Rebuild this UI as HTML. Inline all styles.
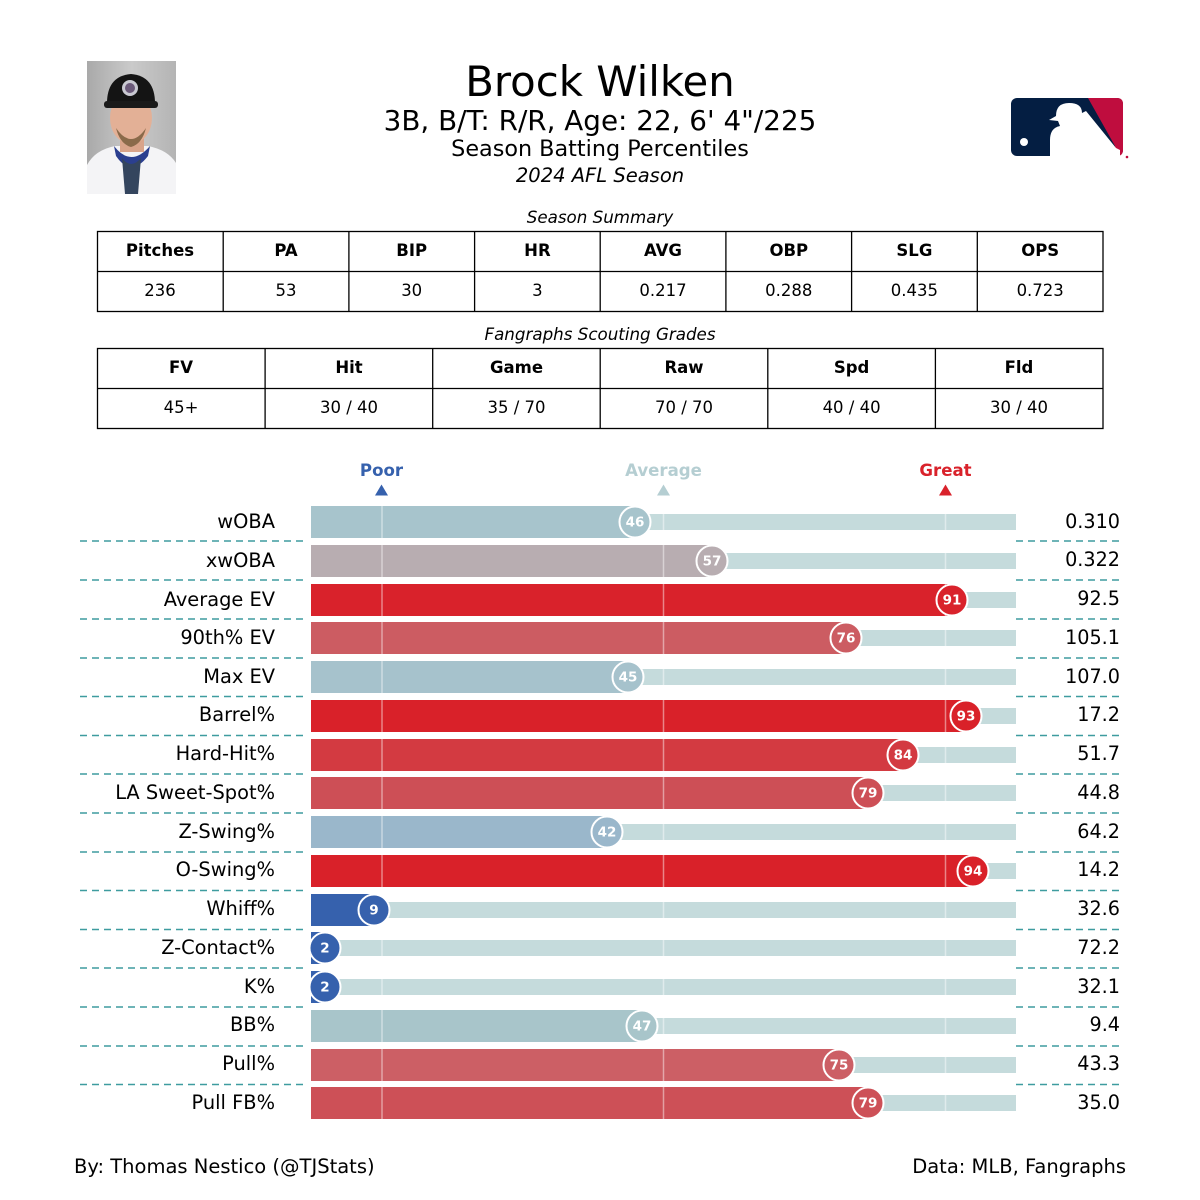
<!DOCTYPE html>
<html>
<head>
<meta charset="utf-8">
<style>
html,body{margin:0;padding:0;background:#fff;}
svg{display:block;}
text{font-family:"DejaVu Sans","Liberation Sans",sans-serif;}
</style>
</head>
<body>
<svg width="1200" height="1200" viewBox="0 0 1200 1200" xmlns="http://www.w3.org/2000/svg">
<rect width="1200" height="1200" fill="#fff"/>

<!-- Player photo placeholder -->
<g>
  <defs>
    <linearGradient id="bg" x1="0" y1="0" x2="1" y2="0">
      <stop offset="0" stop-color="#a9a9a9"/>
      <stop offset="0.5" stop-color="#cacaca"/>
      <stop offset="1" stop-color="#b4b4b4"/>
    </linearGradient>
  </defs>
  <rect x="87" y="61" width="89" height="133" fill="url(#bg)"/>
  <!-- jersey -->
  <path d="M87 165 Q95 150 115 146 L148 146 Q168 150 176 163 L176 194 L87 194 Z" fill="#f4f4f6"/>
  <path d="M114 146 Q131 168 150 146 L148 156 Q131 178 116 156 Z" fill="#2b3f8f"/>
  <path d="M122 158 Q131 170 141 158 L138 194 L125 194 Z" fill="#34455e"/>
  <!-- neck -->
  <rect x="120" y="132" width="24" height="20" fill="#d9a48a"/>
  <!-- face -->
  <ellipse cx="131" cy="118" rx="21" ry="26" fill="#e3b096"/>
  <path d="M116 128 Q131 150 146 128 Q142 144 131 147 Q120 144 116 128Z" fill="#8a6a4a"/>
  <!-- cap -->
  <path d="M107 106 Q106 76 131 74 Q156 76 155 106 Z" fill="#141414"/>
  <rect x="104" y="101" width="54" height="7" rx="3" fill="#1a1a1a"/>
  <circle cx="130" cy="88" r="8" fill="#c9c9d2"/>
  <circle cx="130" cy="88" r="5" fill="#6b5a7a"/>
</g>

<!-- MLB logo -->
<g>
  <rect x="1011" y="98" width="112" height="58" rx="6" fill="#041e42"/>
  <path d="M1088 98 L1117 98 Q1123 98 1123 104 L1123 150 Q1123 156 1117 156 L1115 156 L1115 146 Z" fill="#bf0d3e"/>
  <path d="M1050 156 L1050 140 Q1050 128 1060 126 L1058 121 L1049 120 L1056 116 Q1056 103 1069 103 Q1082 103 1082 113 L1086 111 L1116 148 L1120 150 L1120 156 Z" fill="#fff"/>
  <circle cx="1024" cy="142" r="4" fill="#fff"/>
  <circle cx="1127" cy="157" r="1.3" fill="#bf0d3e"/>
</g>

<!-- Titles -->
<text x="600" y="96" font-size="41.8" text-anchor="middle" fill="#000">Brock Wilken</text>
<text x="600" y="130" font-size="27.8" text-anchor="middle" fill="#000">3B, B/T: R/R, Age: 22, 6' 4"/225</text>
<text x="600" y="156" font-size="22.3" text-anchor="middle" fill="#000">Season Batting Percentiles</text>
<text x="600" y="182" font-size="19.5" font-style="italic" text-anchor="middle" fill="#000">2024 AFL Season</text>

<!-- Season Summary table -->
<text x="600" y="223" font-size="16.7" font-style="italic" text-anchor="middle" fill="#000">Season Summary</text>
<g stroke="#000" stroke-width="1.3" fill="none">
  <rect x="97.5" y="231.5" width="1005.5" height="80"/>
  <line x1="97.5" y1="271.5" x2="1103" y2="271.5"/>
  <line x1="223.2" y1="231.5" x2="223.2" y2="311.5"/>
  <line x1="348.9" y1="231.5" x2="348.9" y2="311.5"/>
  <line x1="474.6" y1="231.5" x2="474.6" y2="311.5"/>
  <line x1="600.2" y1="231.5" x2="600.2" y2="311.5"/>
  <line x1="725.9" y1="231.5" x2="725.9" y2="311.5"/>
  <line x1="851.6" y1="231.5" x2="851.6" y2="311.5"/>
  <line x1="977.3" y1="231.5" x2="977.3" y2="311.5"/>
</g>
<g font-size="16.5" text-anchor="middle" fill="#000" font-weight="bold">
  <text x="160" y="256">Pitches</text>
  <text x="286" y="256">PA</text>
  <text x="411.7" y="256">BIP</text>
  <text x="537.4" y="256">HR</text>
  <text x="663" y="256">AVG</text>
  <text x="788.8" y="256">OBP</text>
  <text x="914.4" y="256">SLG</text>
  <text x="1040.2" y="256">OPS</text>
</g>
<g font-size="16.5" text-anchor="middle" fill="#000">
  <text x="160" y="296">236</text>
  <text x="286" y="296">53</text>
  <text x="411.7" y="296">30</text>
  <text x="537.4" y="296">3</text>
  <text x="663" y="296">0.217</text>
  <text x="788.8" y="296">0.288</text>
  <text x="914.4" y="296">0.435</text>
  <text x="1040.2" y="296">0.723</text>
</g>

<!-- Fangraphs table -->
<text x="600" y="340" font-size="16.7" font-style="italic" text-anchor="middle" fill="#000">Fangraphs Scouting Grades</text>
<g stroke="#000" stroke-width="1.3" fill="none">
  <rect x="97.5" y="348.5" width="1005.5" height="80"/>
  <line x1="97.5" y1="388.5" x2="1103" y2="388.5"/>
  <line x1="265.1" y1="348.5" x2="265.1" y2="428.5"/>
  <line x1="432.7" y1="348.5" x2="432.7" y2="428.5"/>
  <line x1="600.2" y1="348.5" x2="600.2" y2="428.5"/>
  <line x1="767.8" y1="348.5" x2="767.8" y2="428.5"/>
  <line x1="935.4" y1="348.5" x2="935.4" y2="428.5"/>
</g>
<g font-size="16.5" text-anchor="middle" fill="#000" font-weight="bold">
  <text x="181" y="373">FV</text>
  <text x="349" y="373">Hit</text>
  <text x="516.5" y="373">Game</text>
  <text x="684" y="373">Raw</text>
  <text x="851.6" y="373">Spd</text>
  <text x="1019" y="373">Fld</text>
</g>
<g font-size="16.5" text-anchor="middle" fill="#000">
  <text x="181" y="413">45+</text>
  <text x="349" y="413">30 / 40</text>
  <text x="516.5" y="413">35 / 70</text>
  <text x="684" y="413">70 / 70</text>
  <text x="851.6" y="413">40 / 40</text>
  <text x="1019" y="413">30 / 40</text>
</g>

<!-- Poor / Average / Great -->
<g font-size="16.6" font-weight="bold" text-anchor="middle">
  <text x="381.5" y="476" fill="#3661ad">Poor</text>
  <text x="663.5" y="476" fill="#b5ced2">Average</text>
  <text x="945.5" y="476" fill="#d9222b">Great</text>
</g>
<polygon points="375,495.5 388,495.5 381.5,484.5" fill="#3661ad"/>
<polygon points="657,495.5 670,495.5 663.5,484.5" fill="#b5ced2"/>
<polygon points="939,495.5 952,495.5 945.5,484.5" fill="#d9222b"/>

<!-- Dashed separators -->
<g stroke="#3e9c9f" stroke-width="1.4" stroke-dasharray="7 5">
  <path d="M80 541H308M1016 541H1121
           M80 580H308M1016 580H1121
           M80 619H308M1016 619H1121
           M80 658H308M1016 658H1121
           M80 696.5H308M1016 696.5H1121
           M80 735.5H308M1016 735.5H1121
           M80 774H308M1016 774H1121
           M80 813H308M1016 813H1121
           M80 852H308M1016 852H1121
           M80 890.5H308M1016 890.5H1121
           M80 929.5H308M1016 929.5H1121
           M80 968H308M1016 968H1121
           M80 1007H308M1016 1007H1121
           M80 1046H308M1016 1046H1121
           M80 1084.5H308M1016 1084.5H1121"/>
</g>

<!-- Rows -->
<g>
  <g fill="#c5dbdc">
    <rect x="311" y="514" width="705" height="16"/>
    <rect x="311" y="553" width="705" height="16"/>
    <rect x="311" y="592" width="705" height="16"/>
    <rect x="311" y="630" width="705" height="16"/>
    <rect x="311" y="669" width="705" height="16"/>
    <rect x="311" y="708" width="705" height="16"/>
    <rect x="311" y="747" width="705" height="16"/>
    <rect x="311" y="785" width="705" height="16"/>
    <rect x="311" y="824" width="705" height="16"/>
    <rect x="311" y="863" width="705" height="16"/>
    <rect x="311" y="902" width="705" height="16"/>
    <rect x="311" y="940" width="705" height="16"/>
    <rect x="311" y="979" width="705" height="16"/>
    <rect x="311" y="1018" width="705" height="16"/>
    <rect x="311" y="1057" width="705" height="16"/>
    <rect x="311" y="1095" width="705" height="16"/>
  </g>
  <rect x="311" y="506" width="324" height="32" fill="#a7c4cc"/>
  <rect x="311" y="545" width="401" height="32" fill="#b8adb1"/>
  <rect x="311" y="584" width="641" height="32" fill="#d9222b"/>
  <rect x="311" y="622" width="535" height="32" fill="#cc5c62"/>
  <rect x="311" y="661" width="317" height="32" fill="#a6c2cc"/>
  <rect x="311" y="700" width="655" height="32" fill="#d92129"/>
  <rect x="311" y="739" width="592" height="32" fill="#d33a41"/>
  <rect x="311" y="777" width="557" height="32" fill="#cd4f56"/>
  <rect x="311" y="816" width="296" height="32" fill="#9ab7cb"/>
  <rect x="311" y="855" width="662" height="32" fill="#d92129"/>
  <rect x="311" y="894" width="63" height="32" fill="#3661ad"/>
  <rect x="311" y="932" width="14" height="32" fill="#3661ad"/>
  <rect x="311" y="971" width="14" height="32" fill="#3661ad"/>
  <rect x="311" y="1010" width="331" height="32" fill="#a8c5ca"/>
  <rect x="311" y="1049" width="528" height="32" fill="#cc5f65"/>
  <rect x="311" y="1087" width="557" height="32" fill="#cd5057"/>
  <g stroke="#ffffff" stroke-opacity="0.45" stroke-width="1.5">
    <line x1="382" y1="505" x2="382" y2="1120"/>
    <line x1="663.5" y1="505" x2="663.5" y2="1120"/>
    <line x1="945.5" y1="505" x2="945.5" y2="1120"/>
  </g>
  <g fill="#fff">
    <rect x="370" y="538" width="600" height="7"/>
    <rect x="370" y="577" width="600" height="7"/>
    <rect x="370" y="616" width="600" height="6"/>
    <rect x="370" y="654" width="600" height="7"/>
    <rect x="370" y="693" width="600" height="7"/>
    <rect x="370" y="732" width="600" height="7"/>
    <rect x="370" y="771" width="600" height="6"/>
    <rect x="370" y="809" width="600" height="7"/>
    <rect x="370" y="848" width="600" height="7"/>
    <rect x="370" y="887" width="600" height="7"/>
    <rect x="370" y="926" width="600" height="6"/>
    <rect x="370" y="964" width="600" height="7"/>
    <rect x="370" y="1003" width="600" height="7"/>
    <rect x="370" y="1042" width="600" height="7"/>
    <rect x="370" y="1081" width="600" height="6"/>
  </g>
  <g stroke="#fff" stroke-width="2">
    <circle cx="635" cy="522" r="15.5" fill="#a7c4cc"/>
    <circle cx="712" cy="561" r="15.5" fill="#b8adb1"/>
    <circle cx="952" cy="600" r="15.5" fill="#d9222b"/>
    <circle cx="846" cy="638" r="15.5" fill="#cc5c62"/>
    <circle cx="628" cy="677" r="15.5" fill="#a6c2cc"/>
    <circle cx="966" cy="716" r="15.5" fill="#d92129"/>
    <circle cx="903" cy="755" r="15.5" fill="#d33a41"/>
    <circle cx="868" cy="793" r="15.5" fill="#cd4f56"/>
    <circle cx="607" cy="832" r="15.5" fill="#9ab7cb"/>
    <circle cx="973" cy="871" r="15.5" fill="#d92129"/>
    <circle cx="374" cy="910" r="15.5" fill="#3661ad"/>
    <circle cx="325" cy="948" r="15.5" fill="#3661ad"/>
    <circle cx="325" cy="987" r="15.5" fill="#3661ad"/>
    <circle cx="642" cy="1026" r="15.5" fill="#a8c5ca"/>
    <circle cx="839" cy="1065" r="15.5" fill="#cc5f65"/>
    <circle cx="868" cy="1103" r="15.5" fill="#cd5057"/>
  </g>
  <g fill="#fff" font-size="13.5" font-weight="bold" text-anchor="middle">
    <text x="635" y="526.5">46</text>
    <text x="712" y="565.5">57</text>
    <text x="952" y="604.5">91</text>
    <text x="846" y="642.5">76</text>
    <text x="628" y="681.5">45</text>
    <text x="966" y="720.5">93</text>
    <text x="903" y="759.5">84</text>
    <text x="868" y="797.5">79</text>
    <text x="607" y="836.5">42</text>
    <text x="973" y="875.5">94</text>
    <text x="374" y="914.5">9</text>
    <text x="325" y="952.5">2</text>
    <text x="325" y="991.5">2</text>
    <text x="642" y="1030.5">47</text>
    <text x="839" y="1069.5">75</text>
    <text x="868" y="1107.5">79</text>
  </g>
</g>

<!-- Labels -->
<g font-size="19.4" text-anchor="end" fill="#000">
  <text x="275" y="528">wOBA</text>
  <text x="275" y="567">xwOBA</text>
  <text x="275" y="606">Average EV</text>
  <text x="275" y="644">90th% EV</text>
  <text x="275" y="683">Max EV</text>
  <text x="275" y="721">Barrel%</text>
  <text x="275" y="760">Hard-Hit%</text>
  <text x="275" y="799">LA Sweet-Spot%</text>
  <text x="275" y="838">Z-Swing%</text>
  <text x="275" y="876">O-Swing%</text>
  <text x="275" y="915">Whiff%</text>
  <text x="275" y="954">Z-Contact%</text>
  <text x="275" y="993">K%</text>
  <text x="275" y="1031">BB%</text>
  <text x="275" y="1070">Pull%</text>
  <text x="275" y="1109">Pull FB%</text>
</g>
<g font-size="19.2" text-anchor="end" fill="#000">
  <text x="1120" y="528">0.310</text>
  <text x="1120" y="566">0.322</text>
  <text x="1120" y="605">92.5</text>
  <text x="1120" y="644">105.1</text>
  <text x="1120" y="683">107.0</text>
  <text x="1120" y="721">17.2</text>
  <text x="1120" y="760">51.7</text>
  <text x="1120" y="799">44.8</text>
  <text x="1120" y="838">64.2</text>
  <text x="1120" y="876">14.2</text>
  <text x="1120" y="915">32.6</text>
  <text x="1120" y="954">72.2</text>
  <text x="1120" y="993">32.1</text>
  <text x="1120" y="1031">9.4</text>
  <text x="1120" y="1070">43.3</text>
  <text x="1120" y="1109">35.0</text>
</g>

<!-- Footer -->
<text x="74" y="1173" font-size="19.5" fill="#000">By: Thomas Nestico (@TJStats)</text>
<text x="1126" y="1173" font-size="19.5" text-anchor="end" fill="#000">Data: MLB, Fangraphs</text>
</svg>
</body>
</html>
